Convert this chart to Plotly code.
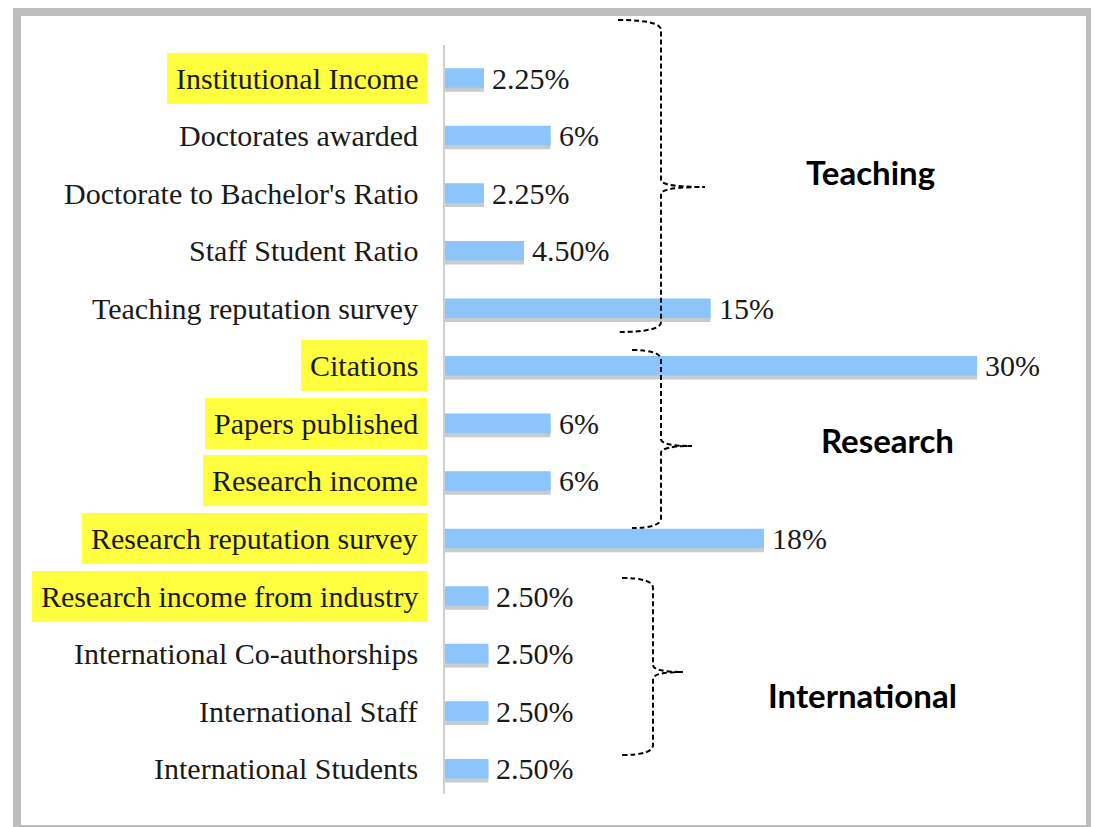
import plotly.graph_objects as go

categories = [
    "Institutional Income",
    "Doctorates awarded",
    "Doctorate to Bachelor's Ratio",
    "Staff Student Ratio",
    "Teaching reputation survey",
    "Citations",
    "Papers published",
    "Research income",
    "Research reputation survey",
    "Research income from industry",
    "International Co-authorships",
    "International Staff",
    "International Students",
]
values = [2.25, 6, 2.25, 4.5, 15, 30, 6, 6, 18, 2.5, 2.5, 2.5, 2.5]
value_labels = ["2.25%", "6%", "2.25%", "4.50%", "15%", "30%", "6%", "6%",
                "18%", "2.50%", "2.50%", "2.50%", "2.50%"]
highlighted = [True, False, False, False, False, True, True, True, True,
               True, False, False, False]
groups = ["Teaching", "Research", "International"]

OFF = 8  # page body margin
W, H = 1099 - OFF, 827 - OFF


def px(x):
    return (x - OFF) / W


def py(y):
    return 1 - (y - OFF) / H


fig = go.Figure()

BAR_W = 0.34
# shadow
fig.add_trace(go.Bar(
    x=values, y=categories, orientation="h",
    width=BAR_W, offset=-BAR_W / 2 + 0.07,
    marker=dict(color="#c9cccc", line=dict(width=0)),
    hoverinfo="skip", showlegend=False,
))
fig.add_trace(go.Bar(
    x=values, y=categories, orientation="h",
    width=BAR_W, offset=-BAR_W / 2,
    marker=dict(color="#8cc5fb", line=dict(width=0)),
    showlegend=False,
))

annotations = []
serif = "Liberation Serif, Times New Roman, serif"
for cat, hl in zip(categories, highlighted):
    annotations.append(dict(
        x=px(427), xref="paper", y=cat, yref="y",
        text=cat, showarrow=False, xanchor="right", yanchor="middle",
        font=dict(family=serif, size=30, color="#1a1a1a"),
        bgcolor="#ffff40" if hl else "rgba(0,0,0,0)",
        borderpad=9, borderwidth=0,
    ))
for cat, v, lab in zip(categories, values, value_labels):
    annotations.append(dict(
        x=v, xref="x", y=cat, yref="y",
        text=lab, showarrow=False, xanchor="left", yanchor="middle",
        xshift=6,
        font=dict(family=serif, size=30, color="#1a1a1a"),
    ))

group_pos = [(870, 172), (887, 440), (862, 695)]
for g, (gx, gy) in zip(groups, group_pos):
    annotations.append(dict(
        x=px(gx), y=py(gy), xref="paper", yref="paper",
        text="<b>" + g + "</b>", showarrow=False,
        xanchor="center", yanchor="middle",
        font=dict(family="Lato, Noto Sans, sans-serif", size=33, color="#000"),
    ))


def brace(a, v, t, top, mid, bot):
    pts = [
        ("M", a, top), ("Q", v, top, v, top + 10), ("L", v, mid - 7),
        ("Q", v, mid, t, mid), ("Q", v, mid, v, mid + 7), ("L", v, bot - 10),
        ("Q", v, bot, a, bot),
    ]
    s = ""
    for p in pts:
        cmd = p[0]
        coords = p[1:]
        parts = []
        for i in range(0, len(coords), 2):
            parts.append(f"{px(coords[i]):.5f},{py(coords[i + 1]):.5f}")
        s += cmd + " " + " ".join(parts) + " "
    return s.strip()


shapes = [
    # outer frame
    dict(type="rect", xref="paper", yref="paper",
         x0=px(17), x1=px(1090), y0=py(829), y1=py(12),
         line=dict(color="#bdbdbd", width=8), fillcolor="rgba(0,0,0,0)",
         layer="above"),
    # axis line
    dict(type="line", xref="x", yref="paper", x0=0, x1=0,
         y0=py(45), y1=py(794), line=dict(color="#cfcfcf", width=2)),
]
for a, v, t, top, mid, bot in [
    (618, 661, 705, 20, 187, 332),
    (632, 661, 692, 350, 446, 528),
    (622, 653, 683, 578, 672, 755),
]:
    shapes.append(dict(type="path", xref="paper", yref="paper",
                       path=brace(a, v, t, top, mid, bot),
                       line=dict(color="#000", width=2, dash="5px,3px")))

ppx = 17.77
x0 = -(444 - OFF) / ppx
x1 = x0 + W / ppx
ppy = 57.56
r_top = -(78 - OFF) / ppy
r_bot = r_top + H / ppy

fig.update_layout(
    width=W, height=H,
    margin=dict(l=0, r=0, t=0, b=0),
    paper_bgcolor="white", plot_bgcolor="white",
    barmode="overlay",
    xaxis=dict(range=[x0, x1], visible=False, fixedrange=True),
    yaxis=dict(range=[r_bot, r_top], type="category",
               categoryorder="array", categoryarray=categories,
               showticklabels=False, showgrid=False, zeroline=False,
               showline=False, ticks=""),
    annotations=annotations,
    shapes=shapes,
    showlegend=False,
)

fig.write_html("out.html")
